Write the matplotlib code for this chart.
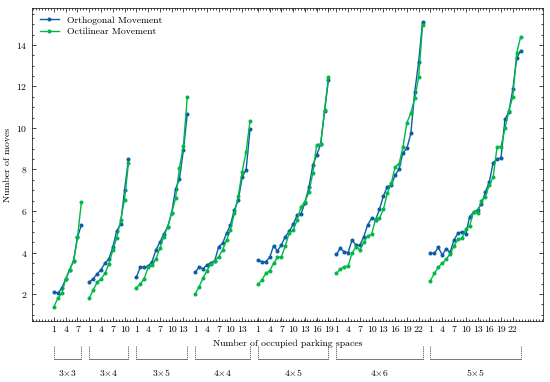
import matplotlib
matplotlib.use('Agg')
import matplotlib.pyplot as plt
import matplotlib.transforms as mtransforms
from matplotlib.ticker import AutoMinorLocator

# parking lot sizes and number of occupied spaces per lot (rows*cols - 1)
lot_names = ['3$\\times$3', '3$\\times$4', '3$\\times$5', '4$\\times$4',
             '4$\\times$5', '4$\\times$6', '5$\\times$5']

orth_3x3 = [2.12, 2.04, 2.28, 2.73, 3.17, 3.6, 4.74, 5.33]
octi_3x3 = [1.39, 1.8, 2.04, 2.72, 3.18, 3.6, 4.73, 6.45]

orth_3x4 = [2.58, 2.74, 2.96, 3.18, 3.48, 3.69, 4.26, 5.04, 5.37, 7.0, 8.49]
octi_3x4 = [1.8, 2.19, 2.56, 2.72, 2.99, 3.45, 4.11, 4.71, 5.55, 6.55, 8.3]

orth_3x5 = [2.8, 3.3, 3.3, 3.33, 3.56, 4.12, 4.49, 4.89, 5.24, 5.89, 7.05,
            7.54, 8.93, 10.69]
octi_3x5 = [2.29, 2.48, 2.74, 3.28, 3.41, 3.69, 4.2, 4.76, 5.24, 5.89, 6.61,
            8.08, 9.13, 11.49]

orth_4x4 = [3.05, 3.29, 3.22, 3.4, 3.51, 3.6, 4.28, 4.44, 4.92, 5.33, 6.05,
            6.53, 7.64, 7.98, 9.95]
octi_4x4 = [2.0, 2.35, 2.76, 3.12, 3.45, 3.59, 3.8, 4.12, 4.6, 5.08, 5.89,
            6.72, 7.89, 8.86, 10.35]

orth_4x5 = [3.64, 3.56, 3.56, 3.76, 4.32, 4.08, 4.37, 4.76, 5.02, 5.36, 5.8,
            5.86, 6.4, 7.14, 8.2, 8.7, 9.21, 10.8, 12.33]
octi_4x5 = [2.47, 2.67, 2.99, 3.12, 3.48, 3.76, 3.8, 4.32, 4.96, 5.08, 5.57,
            6.21, 6.45, 6.9, 7.82, 9.2, 9.22, 10.85, 12.44]

orth_4x6 = [3.91, 4.2, 4.04, 3.99, 4.6, 4.36, 4.36, 4.76, 5.33, 5.65, 5.57,
            6.08, 6.72, 7.17, 7.25, 7.73, 8.02, 8.81, 9.02, 9.74, 11.75,
            13.2, 15.12]
octi_4x6 = [3.0, 3.19, 3.32, 3.35, 3.96, 4.28, 4.12, 4.49, 4.8, 4.88, 5.6,
            5.65, 6.08, 6.85, 7.33, 8.13, 8.27, 9.1, 10.26, 10.72, 11.43,
            12.47, 14.96]

orth_5x5 = [3.96, 3.96, 4.25, 3.88, 4.17, 4.01, 4.6, 4.92, 5.0, 4.89, 5.73,
            5.94, 6.05, 6.34, 6.9, 7.41, 8.33, 8.49, 8.57, 10.42, 10.79,
            11.86, 13.36, 13.73]
octi_5x5 = [2.64, 3.0, 3.29, 3.48, 3.67, 3.93, 4.31, 4.63, 4.68, 5.12, 5.28,
            5.97, 5.92, 6.5, 6.69, 7.25, 7.65, 9.1, 9.1, 9.98, 10.83, 11.51,
            13.6, 14.4]

orth_groups = [orth_3x3, orth_3x4, orth_3x5, orth_4x4, orth_4x5, orth_4x6,
               orth_5x5]
octi_groups = [octi_3x3, octi_3x4, octi_3x5, octi_4x4, octi_4x5, octi_4x6,
               octi_5x5]

BLUE = '#0C5DA5'
GREEN = '#00B945'

plt.rcParams.update({
    'font.family': 'serif',
    'font.serif': ['cmr10'],
    'mathtext.fontset': 'cm',
    'axes.formatter.use_mathtext': True,
    'font.size': 7,
    'axes.linewidth': 0.5,
    'xtick.direction': 'in',
    'ytick.direction': 'in',
    'xtick.top': True,
    'ytick.right': True,
    'xtick.major.size': 3,
    'ytick.major.size': 3,
    'xtick.minor.size': 1.5,
    'ytick.minor.size': 1.5,
    'xtick.major.width': 0.5,
    'ytick.major.width': 0.5,
    'xtick.minor.width': 0.5,
    'ytick.minor.width': 0.5,
})

fig = plt.figure(figsize=(5.5, 3.82), dpi=100)
ax = fig.add_axes([32 / 550, 1 - 321 / 382, 511 / 550, 313 / 382])

# lay the groups side by side with one empty slot in between
tick_pos, tick_lab, spans = [], [], []
start = 0
for i, (orth, octi) in enumerate(zip(orth_groups, octi_groups)):
    xs = list(range(start, start + len(orth)))
    ax.plot(xs, orth, '-o', color=BLUE, lw=1, ms=1.9,
            label='Orthogonal Movement' if i == 0 else None)
    ax.plot(xs, octi, '-o', color=GREEN, lw=1, ms=1.9,
            label='Octilinear Movement' if i == 0 else None)
    for k in range(0, len(orth), 3):
        tick_pos.append(xs[k])
        tick_lab.append(str(k + 1))
    spans.append((xs[0], xs[-1]))
    start = xs[-1] + 2

ax.set_xticks(tick_pos)
ax.set_xticklabels(tick_lab)
ax.xaxis.set_minor_locator(AutoMinorLocator(4))
ax.yaxis.set_minor_locator(AutoMinorLocator(4))
ax.set_xlim(-5.6, 124.7)
ax.set_ylim(0.7, 15.78)
ax.set_yticks([2, 4, 6, 8, 10, 12, 14])

ax.set_xlabel('Number of occupied parking spaces', labelpad=4)
ax.set_ylabel('Number of moves', labelpad=3)

ax.legend(loc='upper left', frameon=False, handlelength=2.0,
          borderaxespad=0.4, labelspacing=0.3)

# brackets under the axis naming each lot size
trans = mtransforms.blended_transform_factory(ax.transData, ax.transAxes)
for (x0, x1), name in zip(spans, lot_names):
    for xv in (x0, x1):
        ax.plot([xv, xv], [-0.08, -0.122], color='0.25', lw=0.5, ls=(0, (2, 1)),
                transform=trans, clip_on=False)
    ax.plot([x0, x1], [-0.122, -0.122], color='0.25', lw=0.5,
            transform=trans, clip_on=False)
    ax.text((x0 + x1) / 2, -0.165, name, transform=trans, ha='center',
            va='center')

fig.savefig('out.png', dpi=100)
